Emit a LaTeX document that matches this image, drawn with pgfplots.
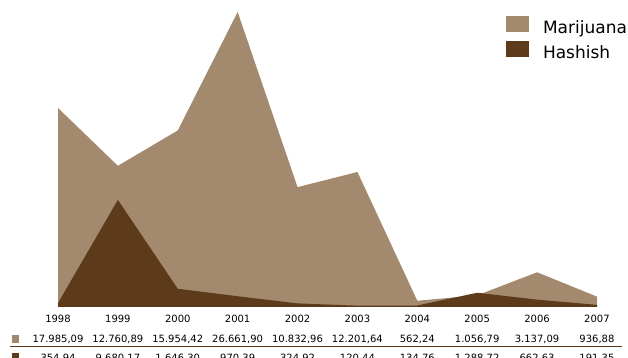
\documentclass[border=0pt]{standalone}
\usepackage{pgfplots}
\pgfplotsset{compat=1.18}
\usepackage{fontspec}
\setmainfont{DejaVu Sans}
\definecolor{mari}{RGB}{163,137,109}
\definecolor{hash}{RGB}{92,58,26}
\begin{document}
\begin{tikzpicture}
\useasboundingbox (0pt,0pt) rectangle (628pt,358pt);
\begin{axis}[
  at={(58pt,51pt)}, anchor=south west,
  scale only axis, width=539pt, height=295pt,
  xmin=1998, xmax=2007, ymin=0, ymax=26661.9,
  axis line style={draw=none}, tick style={draw=none},
  ytick=\empty, xtick={1998,1999,...,2007},
  xticklabels={{1998\\17.985,09\\354,94},{1999\\12.760,89\\9.680,17},{2000\\15.954,42\\1.646,30},{2001\\26.661,90\\970,39},{2002\\10.832,96\\324,92},{2003\\12.201,64\\120,44},{2004\\562,24\\134,76},{2005\\1.056,79\\1.288,72},{2006\\3.137,09\\662,63},{2007\\936,88\\191,35}},
  xticklabel style={align=center, font=\fontsize{10}{19.5}\selectfont, anchor=base, yshift=-55pt, inner sep=0pt},
  clip=false,
  legend cell align=left,
  legend image code/.code={\fill[#1] (0pt,-3pt) rectangle (23pt,13pt);},
  legend style={draw=none, fill=none, at={(axis description cs:0.8312,0.9864)}, anchor=north west,
    inner sep=0pt, outer sep=0pt, font=\fontsize{17}{20}\selectfont, row sep=3pt, column sep=14pt,
    nodes={inner sep=0pt, text height=13pt, text depth=4pt}},
]
\addplot[draw=none, fill=mari] coordinates {(1998,17985.09) (1999,12760.89) (2000,15954.42) (2001,26661.90) (2002,10832.96) (2003,12201.64) (2004,562.24) (2005,1056.79) (2006,3137.09) (2007,936.88)} \closedcycle;
\addlegendentry{Marijuana}
\addplot[draw=none, fill=hash] coordinates {(1998,354.94) (1999,9680.17) (2000,1646.30) (2001,970.39) (2002,324.92) (2003,120.44) (2004,134.76) (2005,1288.72) (2006,662.63) (2007,191.35)} \closedcycle;
\addlegendentry{Hashish}
\end{axis}
\fill[mari] (12pt,15pt) rectangle (19pt,23pt);
\fill[hash] (12pt,-3pt) rectangle (19pt,5pt);
\draw[hash, line width=1pt] (10pt,11.5pt) -- (622pt,11.5pt);
\end{tikzpicture}
\end{document}
